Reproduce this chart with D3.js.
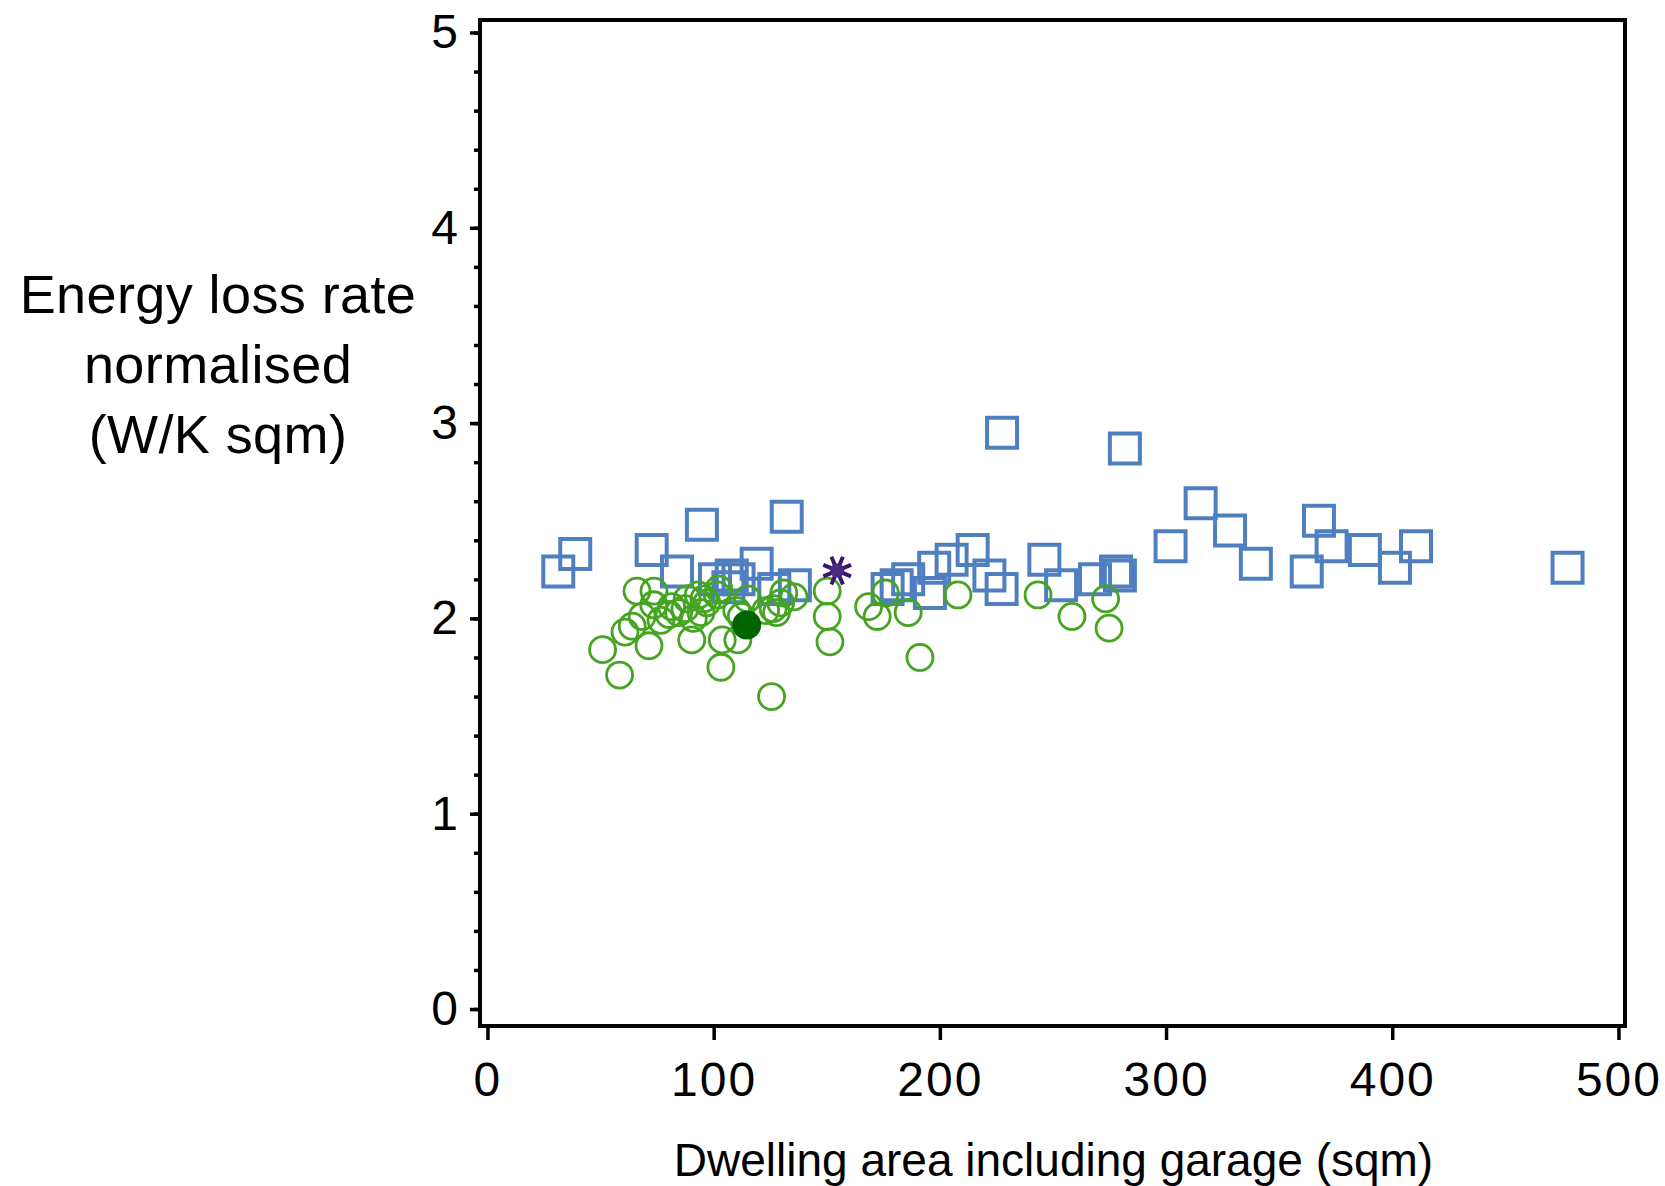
<!DOCTYPE html>
<html>
<head>
<meta charset="utf-8">
<script src="https://cdn.jsdelivr.net/npm/d3@7"></script>
<style>
  html, body { margin: 0; padding: 0; background: #ffffff; }
  svg { display: block; }
  text { font-family: "Liberation Sans", Arial, sans-serif; fill: #000; }
</style>
</head>
<body>
<svg id="chart" width="1665" height="1186"></svg>
<script>
// ---- Data ----
const xTicks = [0, 100, 200, 300, 400, 500];
const yTicks = [0, 1, 2, 3, 4, 5];
const yMinorTicks = d3.range(0, 5.0001, 0.2);
const xLabel = "Dwelling area including garage (sqm)";
const yLabelLines = ["Energy loss rate", "normalised", "(W/K sqm)"];

// blue open squares: [area, rate]
const squareX = [31.3, 38.8, 72.6, 83.8, 94.8, 100.6, 106.5, 108, 111, 119, 126.8, 132.3, 135.9,
  176.9, 180.9, 186, 195.6, 197.5, 205.2, 214.5, 221.9, 227.3, 227.5, 246.2, 253.6, 268.6,
  277.9, 279.6, 281.8, 302, 315.3, 328.3, 339.7, 362.2, 367.6, 373.2, 387.9, 401.2, 410.5, 477.5];
const squareY = [2.24, 2.33, 2.35, 2.24, 2.48, 2.20, 2.16, 2.22, 2.20, 2.28, 2.15, 2.52, 2.17,
  2.15, 2.17, 2.20, 2.13, 2.26, 2.30, 2.35, 2.22, 2.15, 2.95, 2.30, 2.17, 2.20,
  2.24, 2.22, 2.87, 2.37, 2.59, 2.45, 2.28, 2.24, 2.50, 2.37, 2.35, 2.26, 2.37, 2.26];

// green open circles
const circleX = [50.9, 58.4, 60.8, 64, 66.1, 68.4, 71.4, 73.6, 73.5, 76.7, 80.3, 81.4, 84.5, 87.3,
  88.3, 90.3, 91, 93.2, 94.4, 95.7, 97, 101.6, 102.3, 103.2, 103.8, 110.2, 110.7, 112.2, 115,
  123, 125.6, 126.3, 127.8, 129.6, 131, 135.5, 150.2, 150.2, 151.4, 168.5, 172.3, 175.9, 186,
  191.2, 208, 243.4, 258.4, 273.3, 274.8];
const circleY = [1.84, 1.71, 1.93, 1.96, 2.14, 2.01, 1.86, 2.14, 2.07, 1.99, 2.02, 2.06, 2.03, 2.05,
  2.10, 1.89, 2.00, 2.12, 2.03, 2.10, 2.08, 2.12, 2.15, 1.75, 1.89, 2.04, 1.89, 2.01, 2.10,
  2.04, 1.60, 2.05, 2.03, 2.08, 2.13, 2.11, 2.14, 2.01, 1.88, 2.06, 2.01, 2.13, 2.03,
  1.80, 2.12, 2.12, 2.01, 2.10, 1.95];

// highlighted points
const filledX = [114.6];
const filledY = [1.966];
const starX = [154.6];
const starY = [2.245];

// ---- Layout ----
const frame = { left: 480, right: 1625, top: 20, bottom: 1026 };
const xDomain = [-3.3, 502.9];
const yDomain = [-0.087, 5.064];

const svg = d3.select("#chart");
const x = d3.scaleLinear().domain(xDomain).range([frame.left, frame.right]);
const y = d3.scaleLinear().domain(yDomain).range([frame.bottom, frame.top]);

// frame
svg.append("rect")
  .attr("x", frame.left).attr("y", frame.top)
  .attr("width", frame.right - frame.left).attr("height", frame.bottom - frame.top)
  .attr("fill", "none").attr("stroke", "#000").attr("stroke-width", 4);

// x axis
const xAxis = svg.append("g")
  .attr("transform", `translate(0,${frame.bottom})`)
  .call(d3.axisBottom(x).tickValues(xTicks).tickSize(14).tickPadding(22).tickFormat(d3.format("d")));
xAxis.select(".domain").remove();
xAxis.selectAll(".tick line").attr("stroke", "#000").attr("stroke-width", 3.5);
xAxis.selectAll(".tick text")
  .style("font-family", '"Liberation Sans", Arial, sans-serif')
  .style("font-size", "48px").style("letter-spacing", "2px").attr("fill", "#000");

// y axis minor ticks
const yMinor = svg.append("g")
  .attr("transform", `translate(${frame.left},0)`)
  .call(d3.axisLeft(y).tickValues(yMinorTicks).tickSize(6).tickFormat(""));
yMinor.select(".domain").remove();
yMinor.selectAll(".tick line").attr("stroke", "#000").attr("stroke-width", 3.5);

// y axis major ticks
const yAxis = svg.append("g")
  .attr("transform", `translate(${frame.left},0)`)
  .call(d3.axisLeft(y).tickValues(yTicks).tickSize(10).tickPadding(12).tickFormat(d3.format("d")));
yAxis.select(".domain").remove();
yAxis.selectAll(".tick line").attr("stroke", "#000").attr("stroke-width", 3.5);
yAxis.selectAll(".tick text")
  .style("font-family", '"Liberation Sans", Arial, sans-serif')
  .style("font-size", "48px").attr("fill", "#000");

// axis titles
svg.append("text")
  .attr("x", (frame.left + frame.right) / 2 + 1)
  .attr("y", 1176)
  .attr("text-anchor", "middle")
  .style("font-size", "46px")
  .text(xLabel);

const yTitle = svg.append("text")
  .attr("text-anchor", "middle")
  .style("font-size", "54px")
  .style("letter-spacing", "0.4px");
yLabelLines.forEach((line, i) => {
  yTitle.append("tspan")
    .attr("x", 218)
    .attr("y", 313 + i * 70)
    .text(line);
});

// custom 8-spoke asterisk symbol
const star8 = {
  draw(context, size) {
    const r = Math.sqrt(size) / 2;
    for (let k = 0; k < 4; k++) {
      const a = Math.PI / 8 + k * Math.PI / 4;
      const dx = r * Math.cos(a), dy = r * Math.sin(a);
      context.moveTo(-dx, -dy);
      context.lineTo(dx, dy);
    }
  }
};

// marks
const plot = svg.append("g");
const squares = squareX.map((v, i) => [v, squareY[i]]);
const circles = circleX.map((v, i) => [v, circleY[i]]);
const filled = filledX.map((v, i) => [v, filledY[i]]);
const stars = starX.map((v, i) => [v, starY[i]]);

plot.selectAll("path.sq").data(squares).join("path")
  .attr("class", "sq")
  .attr("d", d3.symbol(d3.symbolSquare, 900))
  .attr("transform", d => `translate(${x(d[0])},${y(d[1])})`)
  .attr("fill", "none").attr("stroke", "#4f7fc0").attr("stroke-width", 4);

plot.selectAll("circle.oc").data(circles).join("circle")
  .attr("class", "oc")
  .attr("cx", d => x(d[0])).attr("cy", d => y(d[1])).attr("r", 13)
  .attr("fill", "none").attr("stroke", "#45a420").attr("stroke-width", 2.8);

plot.selectAll("circle.fc").data(filled).join("circle")
  .attr("class", "fc")
  .attr("cx", d => x(d[0])).attr("cy", d => y(d[1])).attr("r", 14.5)
  .attr("fill", "#006400");

plot.selectAll("path.st").data(stars).join("path")
  .attr("class", "st")
  .attr("d", d3.symbol(star8, 900))
  .attr("transform", d => `translate(${x(d[0])},${y(d[1])})`)
  .attr("fill", "none").attr("stroke", "#3a1670").attr("stroke-width", 4);
plot.selectAll("circle.stc").data(stars).join("circle")
  .attr("class", "stc")
  .attr("cx", d => x(d[0])).attr("cy", d => y(d[1])).attr("r", 7)
  .attr("fill", "#4a2a80");
</script>
</body>
</html>
